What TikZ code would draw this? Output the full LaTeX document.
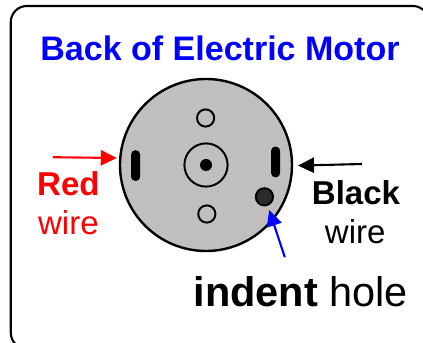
\documentclass[tikz,border=0pt]{standalone}
\usepackage{fontspec}
\setmainfont{Liberation Sans}
\usepackage{xcolor}
\definecolor{motorgray}{HTML}{C0BFBE}
\definecolor{indentgray}{HTML}{2B2B2B}
\usetikzlibrary{arrows.meta}
\tikzset{
  hole/.style={shape=circle, draw, line width=1.4pt, fill=motorgray, inner sep=0pt, minimum size=0.43cm},
  slot/.style={shape=rectangle, rounded corners=0.11cm, fill=black, inner sep=0pt, minimum width=0.23cm, minimum height=0.77cm},
  wirearrow/.style={line width=1.5pt, -{Triangle[length=0.4cm, width=0.38cm]}},
  caption/.style={inner sep=0pt, anchor=center}
}

\begin{document}
\begin{tikzpicture}
        	\useasboundingbox (0, 0) rectangle (10.575, 8.55);
        	% Frame and title:
        	\node[shape=rectangle, draw, line width=1.5pt, rounded corners=0.4cm, minimum width=10.45cm, minimum height=8.57cm](frame) at (5.495, 4.115){};
        	\node[caption, text=blue, font=\bfseries\fontsize{24.2}{28}\selectfont](title) at (5.5, 7.35){Back of Electric Motor};
        	% Motor:
        	\node[shape=circle, draw, line width=1.7pt, fill=motorgray, inner sep=0pt, minimum size=4.3cm](motor) at (5.15, 4.425){};
        	\node[hole](holetop) at (5.14, 5.6){};
        	\node[hole](holebottom) at (5.17, 3.2){};
        	\node[shape=circle, draw, line width=1.4pt, inner sep=0pt, minimum size=1.08cm](ring) at (5.15, 4.425){};
        	\node[shape=circle, fill=black, inner sep=0pt, minimum size=0.3cm](shaft) at (5.15, 4.425){};
        	\node[slot](slotleft) at (3.39, 4.41){};
        	\node[slot](slotright) at (6.89, 4.5){};
        	\node[shape=circle, draw, line width=1.4pt, fill=indentgray, inner sep=0pt, minimum size=0.43cm](indent) at (6.61, 3.63){};
        	% Labels:
        	\node[caption, text=red, font=\bfseries\fontsize{23.5}{28}\selectfont](redlabel) at (1.71, 3.96){Red};
        	\node[caption, text=red, font=\fontsize{23.5}{28}\selectfont](redwire) at (1.71, 2.99){wire};
        	\node[caption, font=\bfseries\fontsize{23.5}{28}\selectfont](blacklabel) at (8.9, 3.73){Black};
        	\node[caption, font=\fontsize{23.5}{28}\selectfont](blackwire) at (8.88, 2.76){wire};
        	\node[caption, font=\fontsize{29.5}{34}\selectfont](holelabel) at (7.52, 1.25){\textbf{indent} hole};
        	% Arrows:
        	\coordinate (redstart) at (1.32, 4.62);
        	\coordinate (redtip) at (2.92, 4.6);
        	\coordinate (blackstart) at (9.05, 4.45);
        	\coordinate (blacktip) at (7.45, 4.41);
        	\coordinate (bluestart) at (7.12, 2.12);
        	\coordinate (bluetip) at (6.73, 3.3);
        	\draw[wirearrow, red] (redstart) -- (redtip);
        	\draw[wirearrow, black] (blackstart) -- (blacktip);
        	\draw[wirearrow, blue] (bluestart) -- (bluetip);
        \end{tikzpicture}
\end{document}
